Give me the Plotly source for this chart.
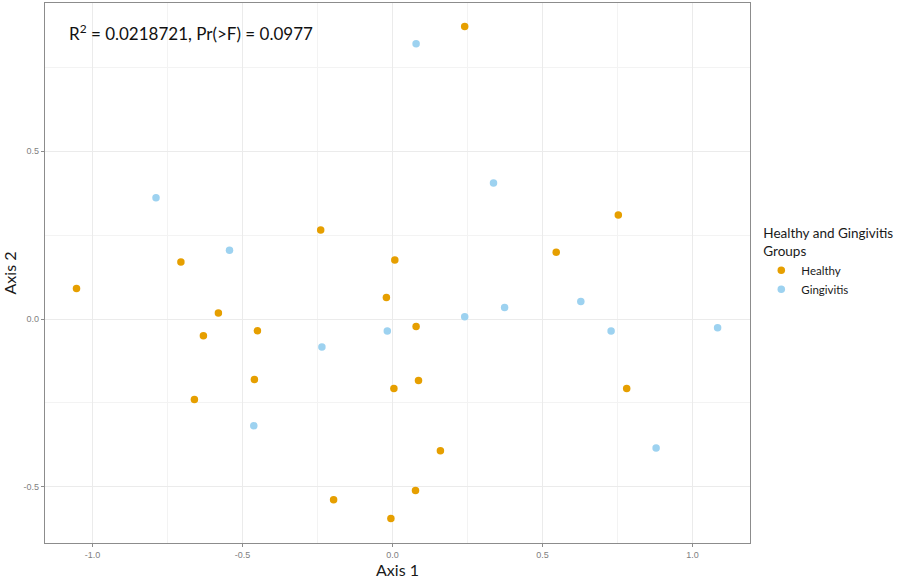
import plotly.graph_objects as go

healthy_x = [0.241, -1.053, -0.705, -0.580, -0.630, -0.450, -0.460, -0.660, -0.239, -0.020,
             0.008, 0.079, 0.087, 0.005, 0.160, 0.077, -0.005, -0.196, 0.546, 0.753, 0.781]
healthy_y = [0.871, 0.091, 0.170, 0.018, -0.050, -0.035, -0.180, -0.240, 0.265, 0.064,
             0.176, -0.022, -0.183, -0.207, -0.392, -0.511, -0.594, -0.538, 0.199, 0.310, -0.207]

ging_x = [0.079, -0.788, -0.543, -0.235, -0.017, -0.462, 0.337, 0.374, 0.628, 0.241, 0.729, 1.084, 0.879]
ging_y = [0.820, 0.361, 0.205, -0.083, -0.036, -0.318, 0.405, 0.034, 0.052, 0.007, -0.036, -0.026, -0.384]

x_ticks = [-1.0, -0.5, 0.0, 0.5, 1.0]
y_ticks = [-0.5, 0.0, 0.5]

font_main = "Lato, 'Open Sans', sans-serif"

fig = go.Figure()
fig.add_trace(go.Scatter(x=healthy_x, y=healthy_y, mode="markers", name="Healthy",
                         marker=dict(color="#E69F00", size=7.5, line=dict(width=0))))
fig.add_trace(go.Scatter(x=ging_x, y=ging_y, mode="markers", name="Gingivitis",
                         marker=dict(color="#9DD2F0", size=7.5, line=dict(width=0))))

axis_common = dict(
    showline=True, mirror=True, linecolor="#8C8C8C", linewidth=1.3,
    showgrid=True, gridcolor="#EBEBEB", gridwidth=0.8,
    ticks="outside", ticklen=3, tickcolor="#8C8C8C",
    tickfont=dict(family="Liberation Sans, Arial", size=9, color="#7F7F7F"),
    zeroline=False, automargin=False,
    minor=dict(showgrid=True, gridcolor="#F3F3F3", gridwidth=0.6, dtick=0.25, tick0=0, ticks=""),
)

fig.update_layout(
    width=900, height=585,
    paper_bgcolor="white", plot_bgcolor="white",
    margin=dict(l=45, r=150, t=3, b=42, autoexpand=False),
    xaxis=dict(range=[-1.158, 1.192], tickvals=x_ticks,
               ticktext=[f"{v:.1f}" for v in x_ticks],
               title=dict(text="Axis 1", font=dict(family=font_main, size=16, color="#1a1a1a"), standoff=3),
               **axis_common),
    yaxis=dict(range=[-0.667, 0.941], tickvals=y_ticks,
               ticktext=[f"{v:.1f}" for v in y_ticks],
               title=dict(text="Axis 2", font=dict(family=font_main, size=16, color="#1a1a1a"), standoff=8),
               **axis_common),
    legend=dict(
        title=dict(text="Healthy and Gingivitis<br>Groups", font=dict(family=font_main, size=13.5, color="#1a1a1a")),
        font=dict(family=font_main, size=11.5, color="#1a1a1a"),
        x=1.016, xanchor="left", y=0.597, yanchor="top",
        tracegroupgap=0, itemwidth=30,
    ),
    showlegend=True,
)

fig.add_annotation(
    text="R<sup>2</sup> = 0.0218721, Pr(>F) = 0.0977",
    xref="paper", yref="paper", x=0.031, y=0.946, xanchor="left", yanchor="middle",
    showarrow=False, font=dict(family=font_main, size=17, color="#111111"),
)

fig.write_html("out.html", config={"displayModeBar": False},
               post_script="document.body.style.margin='0';")
